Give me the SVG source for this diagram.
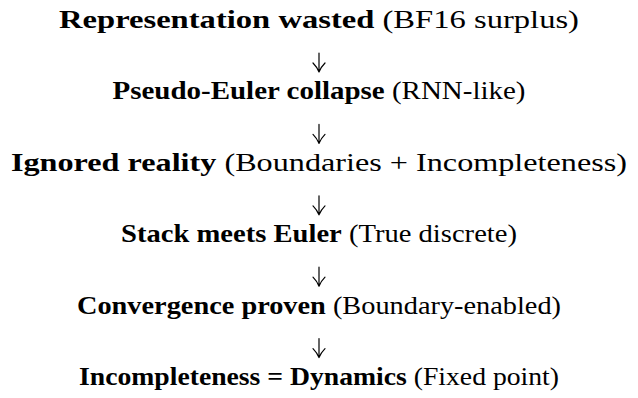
<svg xmlns="http://www.w3.org/2000/svg" width="638" height="398" viewBox="0 0 638 398">
  <style>
    .line { font-family: "Liberation Serif", "Times New Roman", serif; font-size: 25.5px; fill: #000; text-anchor: middle; }
    .b { font-weight: bold; }
    .arrow { fill: none; stroke: #000; stroke-width: 1.2; stroke-linecap: round; stroke-linejoin: round; }
  </style>
  <defs>
    <!-- downward arrow: shaft with curved barbs -->
    <path id="down" d="M0,0 V19 M-6,10 Q-2,14 0,19 Q2,14 6,10"/>
  </defs>
  <rect width="638" height="398" fill="#fff"/>

  <g id="step1"><text class="line" x="319" y="28" textLength="520" lengthAdjust="spacingAndGlyphs"><tspan class="b">Representation wasted</tspan> (BF16 surplus)</text></g>
  <g id="step2"><text class="line" x="319" y="99.4" textLength="413" lengthAdjust="spacingAndGlyphs"><tspan class="b">Pseudo-Euler collapse</tspan> (RNN-like)</text></g>
  <g id="step3"><text class="line" x="319" y="170.8" textLength="616" lengthAdjust="spacingAndGlyphs"><tspan class="b">Ignored reality</tspan> (Boundaries + Incompleteness)</text></g>
  <g id="step4"><text class="line" x="319" y="242.2" textLength="396" lengthAdjust="spacingAndGlyphs"><tspan class="b">Stack meets Euler</tspan> (True discrete)</text></g>
  <g id="step5"><text class="line" x="319" y="313.6" textLength="484" lengthAdjust="spacingAndGlyphs"><tspan class="b">Convergence proven</tspan> (Boundary-enabled)</text></g>
  <g id="step6"><text class="line" x="319" y="385" textLength="480" lengthAdjust="spacingAndGlyphs"><tspan class="b">Incompleteness = Dynamics</tspan> (Fixed point)</text></g>

  <g id="connectors" class="arrow">
    <use href="#down" x="319" y="53"/>
    <use href="#down" x="319" y="124.4"/>
    <use href="#down" x="319" y="195.8"/>
    <use href="#down" x="319" y="267.2"/>
    <use href="#down" x="319" y="338.6"/>
  </g>
</svg>
